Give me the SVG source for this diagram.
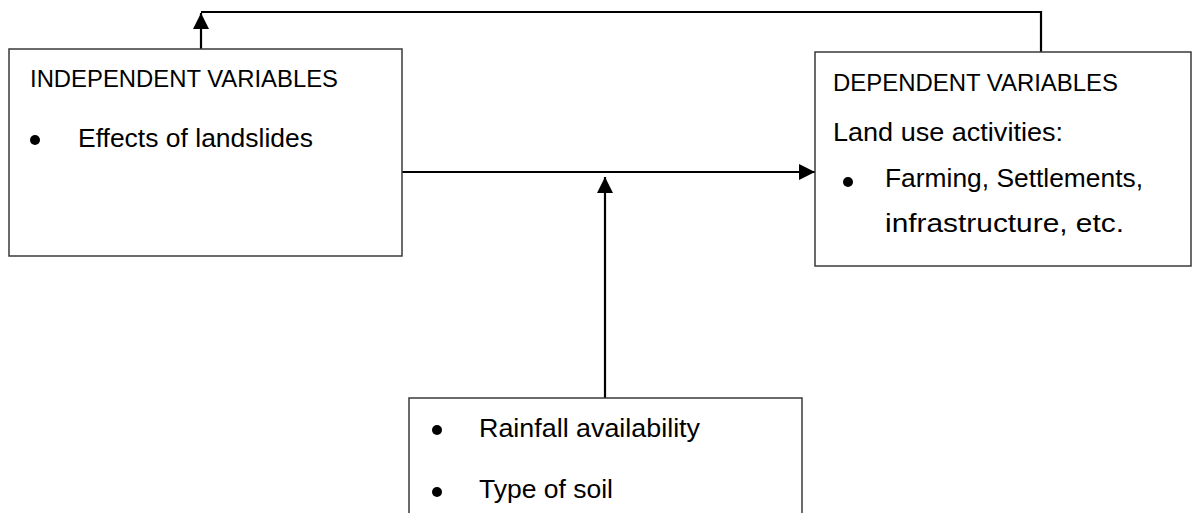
<svg xmlns="http://www.w3.org/2000/svg" width="1192" height="513" viewBox="0 0 1192 513">
<style>
.box{fill:#fff;stroke:#3a3a3a;stroke-width:1.5}
.t{font-family:"Liberation Sans",Arial,sans-serif;font-size:25px;fill:#000}
.h{font-size:23.5px}
.c{fill:none;stroke:#000;stroke-width:2.2}
</style>
<defs>
<marker id="a" viewBox="0 0 16 16" refX="16" refY="8" markerWidth="16" markerHeight="16" orient="auto" markerUnits="userSpaceOnUse">
<path d="M0,0 L16,8 L0,16 Z" fill="#000"/>
</marker>
</defs>
<rect width="1192" height="513" fill="#fff"/>
<g id="connectors">
<path class="c" d="M1041,52 V12 H201"/>
<path class="c" d="M201,49 V13" marker-end="url(#a)"/>
<path class="c" d="M402,172 H815" marker-end="url(#a)"/>
<path class="c" d="M605,398 V177" marker-end="url(#a)"/>
</g>
<g id="independent">
<rect class="box" x="9" y="49" width="393" height="207"/>
<text class="t h" x="30" y="87" textLength="308" lengthAdjust="spacingAndGlyphs">INDEPENDENT VARIABLES</text>
<circle cx="35" cy="140" r="5"/>
<text class="t" x="78" y="147" textLength="235" lengthAdjust="spacingAndGlyphs">Effects of landslides</text>
</g>
<g id="dependent">
<rect class="box" x="815" y="52" width="376" height="214"/>
<text class="t h" x="833" y="91" textLength="285" lengthAdjust="spacingAndGlyphs">DEPENDENT VARIABLES</text>
<text class="t" x="833" y="141" textLength="230" lengthAdjust="spacingAndGlyphs">Land use activities:</text>
<circle cx="848" cy="182" r="5"/>
<text class="t" x="885" y="187" textLength="258" lengthAdjust="spacingAndGlyphs">Farming, Settlements,</text>
<text class="t" x="885" y="232" textLength="239" lengthAdjust="spacingAndGlyphs">infrastructure, etc.</text>
</g>
<g id="moderating">
<rect class="box" x="409" y="398" width="393" height="130"/>
<circle cx="437" cy="430" r="5"/>
<text class="t" x="479" y="437" textLength="221" lengthAdjust="spacingAndGlyphs">Rainfall availability</text>
<circle cx="437" cy="492" r="5"/>
<text class="t" x="479" y="498" textLength="134" lengthAdjust="spacingAndGlyphs">Type of soil</text>
</g>
</svg>
